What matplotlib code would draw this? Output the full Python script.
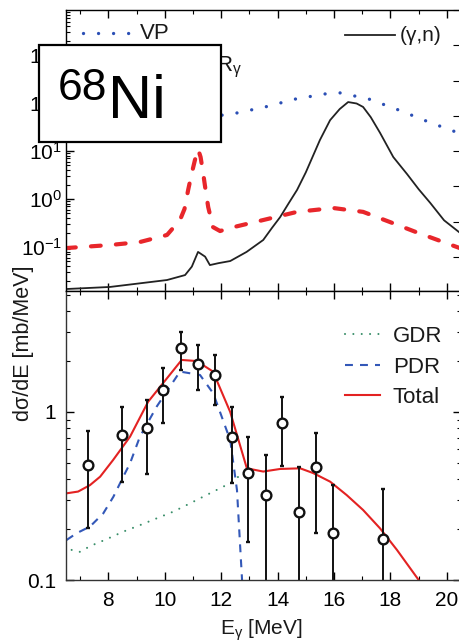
import matplotlib
matplotlib.use('Agg')
import matplotlib.pyplot as plt
import matplotlib.ticker as mticker
from matplotlib.patches import Rectangle
import numpy as np

plt.rcParams['font.family'] = ['Liberation Sans', 'DejaVu Sans']
plt.rcParams['mathtext.fontset'] = 'custom'
plt.rcParams['mathtext.rm'] = 'Liberation Sans'
plt.rcParams['mathtext.it'] = 'Liberation Sans:italic'
plt.rcParams['mathtext.bf'] = 'Liberation Sans:bold'
plt.rcParams['text.color'] = '#1a1a1a'

# --- upper panel: photon spectra and cross section ---
vp_e = [11.5, 12.03, 12.49, 13.56, 14.62, 15.68, 16.22, 17.24, 18.31, 19.37, 20.4]
vp_val = [54, 56, 61, 83, 121, 155, 163, 121, 71, 40, 24]

rg_e = [6.5, 8.06, 9.12, 10.08, 10.54, 10.7, 10.83, 10.95, 11.07, 11.18, 11.27,
        11.36, 11.45, 11.54, 11.71, 11.96, 12.32, 13.49, 14.69, 15.97, 17.03,
        17.99, 18.95, 19.87, 20.5]
rg_val = [0.095, 0.11, 0.127, 0.178, 0.365, 0.62, 1.55, 3.3, 6.5, 11, 7.5,
          3.5, 1.5, 0.68, 0.26, 0.215, 0.25, 0.365, 0.54, 0.65, 0.54,
          0.33, 0.2, 0.127, 0.093]

gn_e = [6.5, 8.06, 10.08, 10.72, 10.96, 11.18, 11.43, 11.6, 11.9, 12.32, 12.9,
        13.49, 13.8, 14.09, 14.4, 14.69, 15.0, 15.5, 15.86, 16.2, 16.5, 16.8,
        17.03, 17.3, 17.63, 18.1, 18.59, 19.0, 19.41, 19.9, 20.5]
gn_val = [0.0133, 0.0147, 0.0205, 0.026, 0.039, 0.079, 0.063, 0.042, 0.046, 0.051, 0.079,
          0.14, 0.25, 0.42, 0.83, 1.55, 3.6, 17, 44, 75, 105, 98,
          83, 51, 24, 7.5, 3.3, 1.6, 0.83, 0.36, 0.19]

upper_ticks = [0.1, 1, 10, 100, 1000]

# --- lower panel: measured and fitted dσ/dE ---
exp_e = [7.27, 8.50, 9.38, 9.95, 10.57, 11.17, 11.78, 12.39, 12.96, 13.58,
         14.15, 14.76, 15.37, 15.98, 17.75]
exp_val = [0.484, 0.73, 0.80, 1.35, 2.39, 1.93, 1.66, 0.71, 0.435, 0.32,
           0.863, 0.255, 0.469, 0.191, 0.175]
exp_hi = [0.77, 1.075, 1.18, 1.82, 3.0, 2.5, 2.18, 1.075, 0.713, 0.554,
          1.23, 0.472, 0.746, 0.367, 0.347]
exp_lo = [0.204, 0.385, 0.43, 0.86, 1.78, 1.35, 1.10, 0.377, 0.169, 0.05,
          0.477, 0.05, 0.191, 0.05, 0.05]

gdr_e = [6.7, 7.0, 7.35, 7.94, 8.53, 9.12, 9.72, 10.30, 10.90, 11.49, 12.32, 12.78, 13.38]
gdr_val = [0.151, 0.147, 0.159, 0.175, 0.194, 0.212, 0.233, 0.255, 0.286, 0.321, 0.377, 0.434, 0.452]

pdr_e = [6.52, 6.88, 7.35, 7.82, 8.18, 8.53, 8.77, 9.12, 9.72, 10.54, 11.25,
         11.72, 12.32, 12.56, 12.74, 12.85]
pdr_val = [0.173, 0.19, 0.208, 0.249, 0.313, 0.412, 0.495, 0.713, 1.08, 1.74, 1.66,
           1.29, 0.68, 0.343, 0.1, 0.07]

tot_e = [6.52, 6.93, 7.35, 7.71, 8.17, 8.77, 9.41, 10.60, 11.13, 11.71, 12.32,
         12.91, 13.49, 14.09, 14.80, 15.26, 15.86, 16.45, 17.03, 17.63, 18.23, 19.0, 19.3]
tot_val = [0.328, 0.336, 0.367, 0.412, 0.518, 0.713, 1.15, 2.04, 2.01, 1.74, 1.0,
           0.462, 0.442, 0.458, 0.462, 0.433, 0.385, 0.32, 0.261, 0.203, 0.151, 0.1, 0.085]

xticks = [8, 10, 12, 14, 16, 18, 20]

W, H = 459, 642
fig = plt.figure(figsize=(W / 100, H / 100), dpi=100)

def frac(x0, y0, x1, y1):
    return [x0 / W, 1 - y1 / H, (x1 - x0) / W, (y1 - y0) / H]

ax1 = fig.add_axes(frac(66, 10, 461, 291))
ax2 = fig.add_axes(frac(66, 291, 461, 580))

blue = '#2b4fb5'
red = '#e8262b'

ax1.plot(rg_e, rg_val, color=red, lw=3.0, ls=(0, (2.35, 3.65)), dash_capstyle='round')
ax1.plot(gn_e, gn_val, color='#222222', lw=1.3)
ax1.plot(vp_e, vp_val, color=blue, lw=2.4, ls=(0, (0.01, 4.5)), dash_capstyle='round')

ax1.set_yscale('log')
ax1.set_xlim(6.5, 20.5)
ax1.set_ylim(10 ** -1.917, 10 ** 3.94)
ax1.xaxis.set_major_locator(mticker.FixedLocator(xticks))
ax1.xaxis.set_minor_locator(mticker.MultipleLocator(1))
ax1.tick_params(axis='x', which='both', direction='in', top=True, bottom=True, labelbottom=False)
ax1.tick_params(axis='y', which='both', direction='in', right=False, labelsize=15, pad=3)
ax1.tick_params(which='major', length=6, width=1)
ax1.tick_params(which='minor', length=3, width=0.8)
ax1.yaxis.set_major_locator(mticker.FixedLocator(upper_ticks))
ax1.yaxis.set_major_formatter(mticker.LogFormatterSciNotation())
ax1.yaxis.set_minor_locator(mticker.LogLocator(base=10, subs=np.arange(2, 10), numticks=20))
ax1.yaxis.set_minor_formatter(mticker.NullFormatter())

# right-hand scale of the upper panel, ticks only
axr = ax1.twinx()
axr.set_yscale('log')
axr.set_ylim(10 ** -0.963, 10 ** 7.0)
axr.yaxis.set_major_locator(mticker.LogLocator(base=10, numticks=20))
axr.yaxis.set_minor_locator(mticker.NullLocator())
axr.tick_params(axis='y', direction='in', length=6, labelright=False, labelleft=False)

# upper panel key
ax1.plot([0.043, 0.162], [0.918, 0.918], transform=ax1.transAxes, color=blue, lw=2.4,
         ls=(0, (0.01, 4.5)), dash_capstyle='round')
ax1.text(0.187, 0.918, 'VP', transform=ax1.transAxes, size=16, va='center')
ax1.plot([0.043, 0.162], [0.794, 0.794], transform=ax1.transAxes, color=red, lw=3.0,
         ls=(0, (2.35, 3.65)), dash_capstyle='round')
ax1.text(0.38, 0.794, r'R$_\mathrm{γ}$', transform=ax1.transAxes, size=16, va='center')
ax1.plot([0.706, 0.833], [0.911, 0.911], transform=ax1.transAxes, color='#222222', lw=1.3)
ax1.text(0.846, 0.911, '(γ,n)', transform=ax1.transAxes, size=15, va='center')

# lower panel
ax2.plot(gdr_e, gdr_val, color='#3a8f6a', lw=1.5, ls=(0, (0.01, 4)), dash_capstyle='round', label='GDR')
ax2.plot(pdr_e, pdr_val, color='#3358b8', lw=1.5, ls=(0, (3.8, 3.4)), label='PDR')
ax2.plot(tot_e, tot_val, color='#e32222', lw=1.5, label='Total')

exp_val = np.array(exp_val)
yerr = [exp_val - np.array(exp_lo), np.array(exp_hi) - exp_val]
ax2.errorbar(exp_e, exp_val, yerr=yerr, fmt='o', color='#111111', mfc='white',
             ms=7, mew=1.7, elinewidth=1.4, capsize=1.5, capthick=1.2)

ax2.set_yscale('log')
ax2.set_xlim(6.5, 20.5)
ax2.set_ylim(0.1, 10 ** 0.72)
ax2.xaxis.set_major_locator(mticker.FixedLocator(xticks))
ax2.xaxis.set_minor_locator(mticker.MultipleLocator(1))
ax2.xaxis.set_major_formatter(mticker.FixedFormatter([str(t) for t in xticks]))
ax2.yaxis.set_major_locator(mticker.FixedLocator([0.1, 1]))
ax2.yaxis.set_major_formatter(mticker.FixedFormatter(['0.1', '1']))
ax2.yaxis.set_minor_locator(mticker.LogLocator(base=10, subs=np.arange(2, 10), numticks=20))
ax2.yaxis.set_minor_formatter(mticker.NullFormatter())
ax2.tick_params(which='both', direction='in', top=True, right=True, labelsize=15)
ax2.tick_params(axis='x', which='major', pad=8)
ax2.tick_params(axis='y', which='major', pad=7)
ax2.tick_params(which='major', length=6, width=1)
ax2.tick_params(which='minor', length=3, width=0.8)

ax2.legend(loc='upper left', bbox_to_anchor=(0.706, 0.878), frameon=False, fontsize=16,
           handlelength=1.6, handletextpad=0.55, labelspacing=0.42, borderpad=0, borderaxespad=0)

for a in (ax1, ax2):
    for s in a.spines.values():
        s.set_linewidth(1.0)
        s.set_color('#333333')

fig.text(220 / W, 1 - 635 / H, r'E$_\mathrm{γ}$ [MeV]', size=15, ha='left', va='baseline')
fig.text(24 / W, 1 - 343 / H, 'dσ/dE [mb/MeV]', size=15.5, rotation=90, ha='center', va='center')

# nucleus tag
fig.add_artist(Rectangle((39 / W, 1 - 142 / H), 182 / W, 97 / H, transform=fig.transFigure,
                         facecolor='white', edgecolor='black', lw=1.6, zorder=10))
fig.text(58 / W, 1 - 100 / H, '68', size=32, color='black', va='baseline', zorder=11)
fig.text(108 / W, 1 - 118 / H, 'Ni', size=44, color='black', va='baseline', zorder=11)

fig.savefig('out.png', dpi=100)
